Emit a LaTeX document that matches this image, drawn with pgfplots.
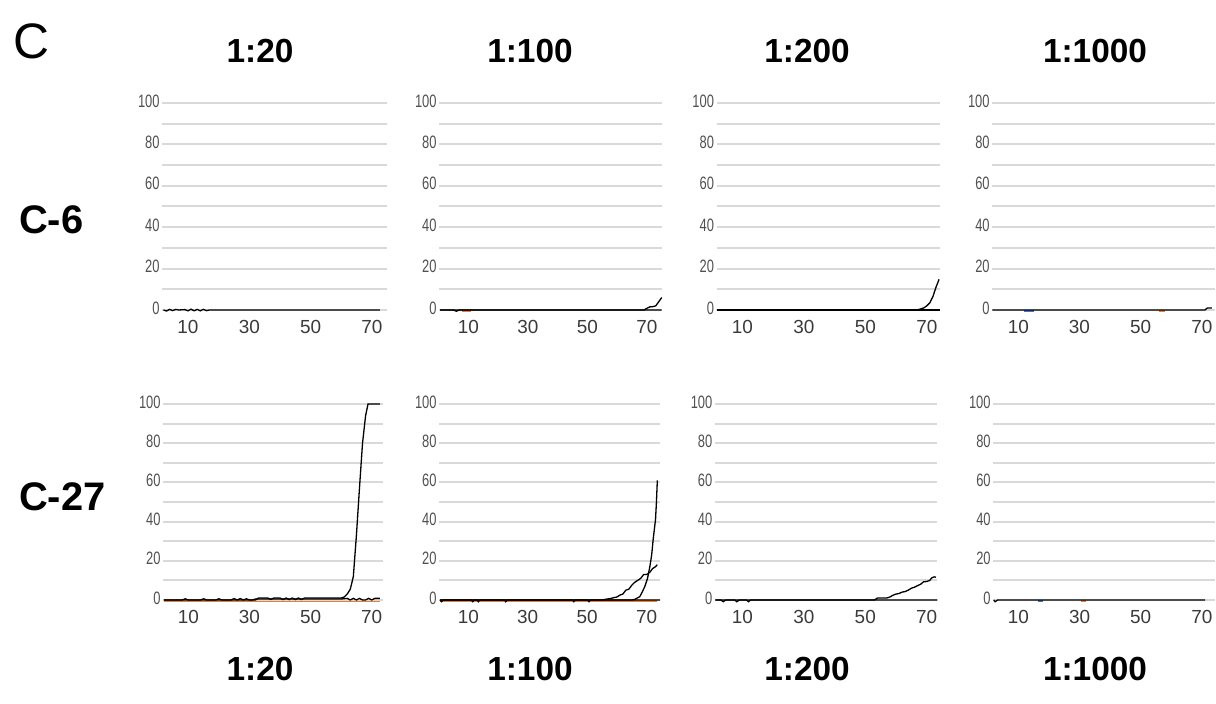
\documentclass[border=0pt]{standalone}
\usepackage{fontspec}
\setmainfont{Liberation Sans}
\newfontfamily\narrowfont[FakeStretch=0.72]{Liberation Sans}
\usepackage{pgfplots}
\pgfplotsset{compat=1.18}
\definecolor{gridgray}{HTML}{D9D9D9}
\definecolor{ylabgray}{HTML}{505050}
\definecolor{xlabgray}{HTML}{3A3A3A}
\definecolor{xlorange}{HTML}{ED7D31}
\definecolor{xlblue}{HTML}{4472C4}
\newcommand\ylabfont{\narrowfont\fontsize{18}{20}\selectfont}
\newcommand\xlabfont{\fontsize{19}{21}\selectfont}
\pgfplotsset{
  panel/.style={
    scale only axis,
    anchor=south west,
    ymin=-1.5, ymax=100,
    ytick={0,20,...,100},
    minor ytick={10,30,...,90},
    xtick={10,30,50,70},
    ymajorgrids, yminorgrids,
    major grid style={draw=gridgray, line width=2bp},
    minor grid style={draw=gridgray, line width=2bp},
    axis line style={draw=none},
    major tick length=0pt, minor tick length=0pt,
    tick style={draw=none},
    /pgf/number format/assume math mode=true,
    yticklabel style={font=\ylabfont, text=ylabgray, yshift=2bp, inner sep=2.5bp},
    xticklabel style={font=\xlabfont, text=xlabgray, yshift=-4bp},
    every axis plot/.append style={line width=1.3bp, no markers},
  },
  row1/.style={height=210.1bp},
  row2/.style={height=198.9bp},
}
\begin{document}
\begin{tikzpicture}
\useasboundingbox (0,0) rectangle (1216bp,704bp);

% ---------- Row 1: C-6 ----------
\begin{axis}[panel,row1,at={(162.3bp,390.9bp)},width=224.7bp,xmin=1.62,xmax=74.9]
\addplot[black] coordinates {(2,0)(3,-0.5)(4,0.3)(5,-0.3)(6,0.3)(7,0)(9,0.2)(10,-0.4)(11,0.4)(12,-0.4)(13,0.3)(14,-0.4)(15,0.3)(16,-0.3)(17,0)(72.6,0)};
\end{axis}

\begin{axis}[panel,row1,at={(439.3bp,390.9bp)},width=222.7bp,xmin=0.25,xmax=75.1]
\addplot[xlorange] coordinates {(8,-0.5)(11,-0.5)};
\addplot[black] coordinates {(0.5,0)(5,0)(6,-0.6)(7,0)(75,0)};
\addplot[black] coordinates {(0.5,0)(69,0)(70,0.8)(71,1.5)(72,1.6)(73,2)(74,4)(75,6)};
\end{axis}

\begin{axis}[panel,row1,at={(716.7bp,390.9bp)},width=223.3bp,xmin=1.67,xmax=74.3]
\addplot[black] coordinates {(1.7,0)(74.3,0)};
\addplot[black] coordinates {(1.7,0)(66,0)(67,0.1)(68,0.5)(69,1)(70,2)(71,3.5)(72,6.5)(73,11)(74,14.8)};
\end{axis}

\begin{axis}[panel,row1,at={(992.3bp,390.9bp)},width=222.7bp,xmin=1.5,xmax=74.3]
\addplot[xlblue] coordinates {(12,-0.5)(15,-0.5)};
\addplot[xlorange] coordinates {(56,-0.5)(58,-0.5)};
\addplot[black] coordinates {(1.5,0)(71,0)(71.8,1)(73.3,1)};
\end{axis}

% ---------- Row 2: C-27 ----------
\begin{axis}[panel,row2,at={(163.3bp,101.1bp)},width=220bp,xmin=1.82,xmax=73.8]
\addplot[xlorange] coordinates {(2,-0.7)(72.7,-0.7)};
\addplot[black] coordinates {(2,0)(31,0)(32,0.5)(60,0.5)(62,0.8)(63,0)(64,0.8)(65,0)(66,0.8)(67,0)(68,0)(69,0.8)(70,0)(71,0.8)(72.7,0.8)};
\addplot[black] coordinates {(2,0)(8,0)(9,0.6)(10,0)(14,0)(15,0.6)(16,0)(19,0)(20,0.6)(21,0)(24,0)(25,0.7)(26,0)(27,0.7)(28,0)(29,0.6)(30,0)(32,0)(33,1)(36,1)(37,0.3)(38,1)(40,1)(41,0.2)(42,1)(43,0.2)(44,1)(45,0.2)(46,1)(47,0.2)(48,1)(60,1)(61,1.5)(62,3)(63,5.5)(64,12)(65,33)(66,57)(67,80)(68,94)(68.8,100)(72.7,100)};
\end{axis}

\begin{axis}[panel,row2,at={(439.3bp,101.1bp)},width=220.7bp,xmin=0.25,xmax=74.5]
\addplot[xlorange] coordinates {(0.5,-0.5)(73.6,-0.5)};
\addplot[black] coordinates {(0.5,0)(1,-0.9)(1.6,0)(11,0)(11.5,-0.9)(12,0)(13,0)(13.4,-0.9)(13.9,0)(22.2,0)(22.6,-0.9)(23.1,0)(45,0)(45.5,-0.9)(46,0)(50.1,0)(50.6,-0.9)(51.1,0)(74.5,0)};
\addplot[black] coordinates {(0.5,0)(55,0)(56,0.3)(58,0.8)(59,1.2)(60,1.5)(61,2.5)(62,3)(63,5)(64,5.5)(65,7.5)(66,9)(67,10)(68,11)(69,13)(70,13)(71,14)(72,16)(73,17)(73.6,18)};
\addplot[black] coordinates {(0.5,0)(65,0)(66,0.3)(67.7,1.7)(68.5,4)(69.4,6.9)(70.3,11)(71.1,17.2)(71.7,23)(72.2,30.9)(73,41.2)(73.3,50)(73.6,61)};
\end{axis}

\begin{axis}[panel,row2,at={(715bp,101.1bp)},width=222.3bp,xmin=1.1,xmax=73.45]
\addplot[black] coordinates {(1.2,0)(3,0)(3.8,-0.9)(4.6,0)(7.5,0)(8.2,-0.9)(9,0)(11.3,0)(12,-0.9)(12.7,0)(73.45,0)};
\addplot[black] coordinates {(1.2,0)(53,0)(54,1)(57,1)(58,1.5)(59,2.4)(60,3)(61,3.3)(62,4)(63,4.3)(64,5)(65,6)(66,6.5)(67,7.3)(68,8)(69,9.3)(70,9.4)(71,10)(71.6,11.2)(72.4,11.8)(73,11.6)};
\end{axis}

\begin{axis}[panel,row2,at={(993.3bp,101.1bp)},width=221.7bp,xmin=1.8,xmax=74.3]
\addplot[xlblue] coordinates {(16.5,-0.5)(18,-0.5)};
\addplot[xlorange] coordinates {(30.5,-0.5)(32,-0.5)};
\addplot[black] coordinates {(1.9,0)(2.4,-0.9)(3.2,0)(71.1,0)};
\end{axis}

% ---------- Text ----------
\node[anchor=base west, font=\fontsize{50}{54}\selectfont, inner sep=0pt] at (13bp,645bp) {C};
\foreach \x/\t in {260/1:20, 530/1:100, 807/1:200, 1095/1:1000}{
  \node[anchor=base, font=\bfseries\fontsize{33.5}{38}\selectfont, inner sep=0pt] at (\x bp,641bp) {\t};
  \node[anchor=base, font=\bfseries\fontsize{33.5}{38}\selectfont, inner sep=0pt] at (\x bp,24bp) {\t};
}
\node[anchor=base west, font=\bfseries\fontsize{40}{44}\selectfont, inner sep=0pt] at (19bp,470bp) {C-6};
\node[anchor=base west, font=\bfseries\fontsize{40}{44}\selectfont, inner sep=0pt] at (19bp,193bp) {C-27};
\end{tikzpicture}
\end{document}
